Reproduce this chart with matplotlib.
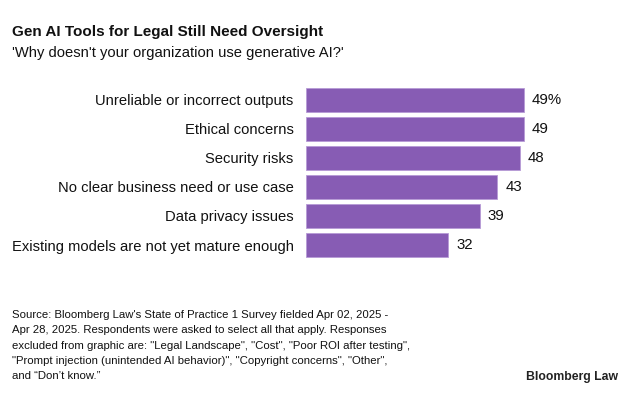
import matplotlib
matplotlib.use("Agg")
import matplotlib.pyplot as plt

plt.rcParams['font.family'] = ['Liberation Sans', 'DejaVu Sans']

# data
reasons = [
    "Unreliable or incorrect outputs",
    "Ethical concerns",
    "Security risks",
    "No clear business need or use case",
    "Data privacy issues",
    "Existing models are not yet mature enough",
]
pct = [49, 49, 48, 43, 39, 32]
value_labels = ["49%", "49", "48", "43", "39", "32"]

bar_color = "#875cb4"

fig = plt.figure(figsize=(6.33, 3.97), dpi=100)
ax = fig.add_axes([306 / 633, 1 - 259.5 / 397, 267 / 633, 174 / 397])

y = list(range(len(reasons)))
ax.barh(y, pct, height=0.83, color=bar_color, edgecolor="#b79ad6", linewidth=0.6)
ax.set_xlim(0, 60)
ax.set_ylim(len(reasons) - 0.5, -0.5)

for yi, v, lab in zip(y, pct, value_labels):
    ax.text(v + 1.8, yi, lab, va="center", ha="left", fontsize=10.8, color="#111111")

ax.set_yticks(y)
ax.set_yticklabels(reasons, fontsize=10.65, color="#111111")
ax.tick_params(axis="y", length=0, pad=9)
ax.set_xticks([])
for s in ax.spines.values():
    s.set_visible(False)

# title block
fig.text(12 / 633, 1 - 32 / 397, "Gen AI Tools for Legal Still Need Oversight",
         fontsize=11.0, fontweight="bold", va="center", ha="left", color="#111111")
fig.text(12 / 633, 1 - 53 / 397, "'Why doesn't your organization use generative AI?'",
         fontsize=10.6, va="center", ha="left", color="#111111")

# footnote
source = ("Source: Bloomberg Law's State of Practice 1 Survey fielded Apr 02, 2025 -\n"
          "Apr 28, 2025. Respondents were asked to select all that apply. Responses\n"
          "excluded from graphic are: \"Legal Landscape\", \"Cost\", \"Poor ROI after testing\",\n"
          "\"Prompt injection (unintended AI behavior)\", \"Copyright concerns\", \"Other\",\n"
          "and \u201cDon\u2019t know.\u201d")
fig.text(12 / 633, 1 - 310 / 397, source, fontsize=8.2, va="top", ha="left",
         color="#111111", linespacing=1.67)

fig.text(618 / 633, 1 - 377 / 397, "Bloomberg Law", fontsize=8.8, fontweight="bold",
         va="center", ha="right", color="#222222")

fig.savefig("out.png", dpi=100)
